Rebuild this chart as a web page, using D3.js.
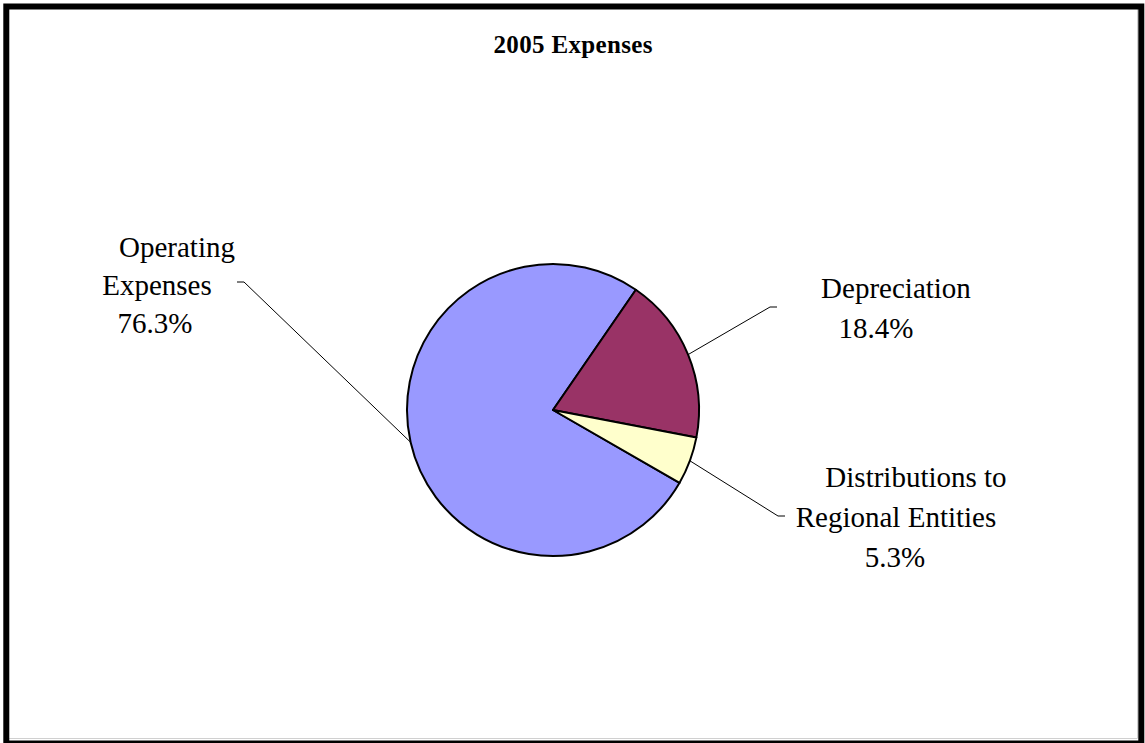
<!DOCTYPE html>
<html>
<head>
<meta charset="utf-8">
<script src="https://cdn.jsdelivr.net/npm/d3@7/dist/d3.min.js"></script>
<style>
  html, body { margin: 0; padding: 0; background: #fff; }
  svg { display: block; }
  text { font-family: "Liberation Serif", "Times New Roman", serif; fill: #000; }
</style>
</head>
<body>
<script>
// ---- data ----
const title = "2005 Expenses";
const categories = ["Operating Expenses", "Depreciation", "Distributions to Regional Entities"];
const values = [76.3, 18.4, 5.3];
const labelLines = [
  ["Operating", "Expenses", "76.3%"],
  ["Depreciation", "18.4%"],
  ["Distributions to", "Regional Entities", "5.3%"]
];
const colors = ["#9999FF", "#993366", "#FFFFCC"];

// ---- layout ----
const W = 1145, H = 743;
const cx = 553, cy = 410, R = 146;
const startDeg = 119.9;
// per-label layout: line centers (x), first baseline, line gap, elbow point and horizontal end
const labelLayout = [
  { xs: [177, 157, 155], y0: 257, dy: 38, elbow: [244, 282], end: [237, 282] },
  { xs: [896, 876], y0: 298, dy: 40, elbow: [770, 307], end: [777, 307] },
  { xs: [916, 896, 895], y0: 487, dy: 40, elbow: [778, 516], end: [785, 516] }
];

const svg = d3.select("body").append("svg").attr("width", W).attr("height", H);
svg.append("rect").attr("width", W).attr("height", H).attr("fill", "#fff");

// faint inner frame
svg.append("line").attr("x1", 1137.5).attr("x2", 1137.5).attr("y1", 9).attr("y2", 738.5)
  .attr("stroke", "#d0d0d0").attr("stroke-width", 1);
svg.append("line").attr("x1", 9).attr("x2", 1137.5).attr("y1", 738.5).attr("y2", 738.5)
  .attr("stroke", "#d0d0d0").attr("stroke-width", 1);

// outer border
svg.append("rect").attr("x", 6.3).attr("y", 6.5).attr("width", 1135).attr("height", 737)
  .attr("fill", "none").attr("stroke", "#000").attr("stroke-width", 6);

svg.append("text").attr("x", 573).attr("y", 53).attr("text-anchor", "middle")
  .attr("font-weight", "bold").attr("font-size", 25).attr("textLength", 159)
  .text(title);

const data = categories.map((c, i) => ({ name: c, value: values[i], i }));
const pie = d3.pie().sort(null).value(d => d.value)
  .startAngle(startDeg * Math.PI / 180)
  .endAngle(startDeg * Math.PI / 180 + 2 * Math.PI);
const arcs = pie(data);
const arc = d3.arc().innerRadius(0).outerRadius(R);

const g = svg.append("g").attr("transform", `translate(${cx},${cy})`);
g.selectAll("path.slice").data(arcs).join("path")
  .attr("class", "slice")
  .attr("d", arc)
  .attr("fill", d => colors[d.data.i])
  .attr("stroke", "#000").attr("stroke-width", 2).attr("stroke-linejoin", "round");

// leader lines
arcs.forEach(a => {
  const mid = (a.startAngle + a.endAngle) / 2;
  const px = cx + R * Math.sin(mid), py = cy - R * Math.cos(mid);
  const L = labelLayout[a.data.i];
  svg.append("polyline")
    .attr("points", `${px},${py} ${L.elbow[0]},${L.elbow[1]} ${L.end[0]},${L.end[1]}`)
    .attr("fill", "none").attr("stroke", "#000").attr("stroke-width", 1);
  const t = svg.append("text").attr("font-size", 29).attr("text-anchor", "middle");
  labelLines[a.data.i].forEach((ln, k) => {
    t.append("tspan").attr("x", L.xs[k]).attr("y", L.y0 + k * L.dy).text(ln);
  });
});
</script>
</body>
</html>
